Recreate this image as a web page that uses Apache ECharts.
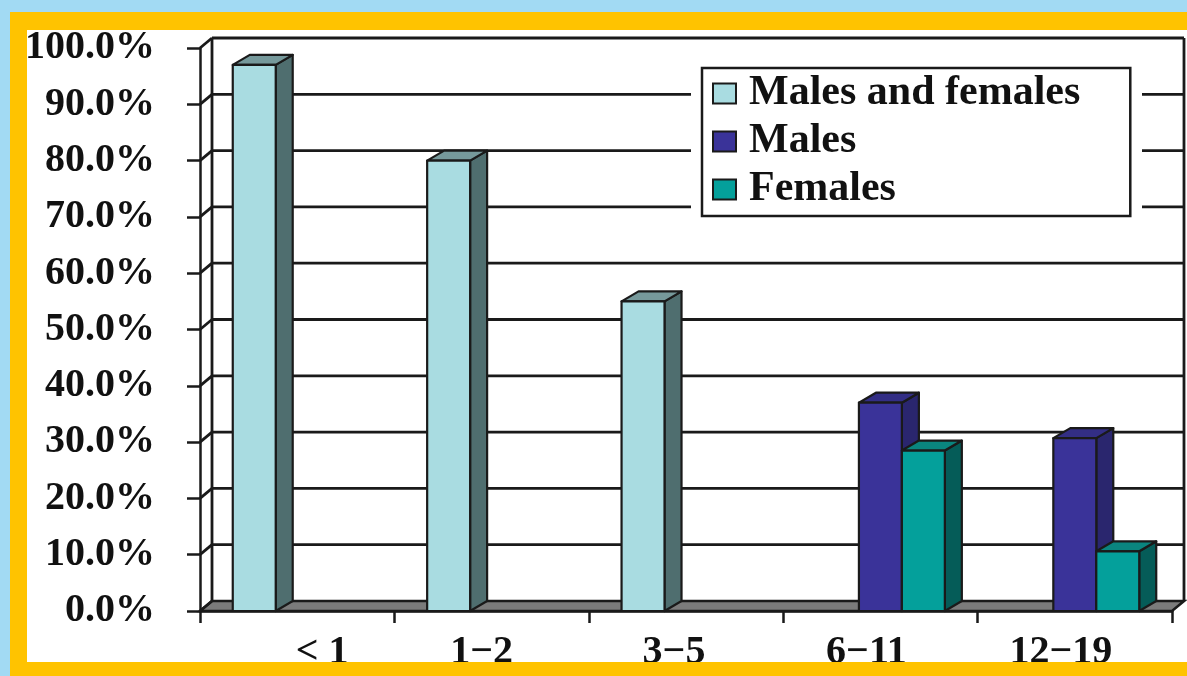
<!DOCTYPE html>
<html>
<head>
<meta charset="utf-8">
<script src="https://cdn.jsdelivr.net/npm/echarts@6/dist/echarts.min.js"></script>
<style>
html,body{margin:0;padding:0;background:#fff;}
#chart{width:1187px;height:676px;}
</style>
</head>
<body>
<div id="chart"></div>
<script>
// ---- data ----
const categories = ['< 1', '1\u22122', '3\u22125', '6\u221211', '12\u221219'];
const seriesNames = ['Males and females', 'Males', 'Females'];
const bothSexes = [97, 80, 55, null, null];
const males = [null, null, null, 37, 30.7];
const females = [null, null, null, 28.5, 10.6];
const yTicks = [0, 10, 20, 30, 40, 50, 60, 70, 80, 90, 100];

// ---- styles ----
const FONT = 'Liberation Serif';
const LINE = '#1a1a1a';
const DX_WALL = 12, DY_WALL = -10;
const DX_BAR = 17, DY_BAR = -10;
const palette = [
  {front: '#A9DCE1', side: '#4F6E6F', top: '#76999B'},
  {front: '#3A3399', side: '#2A266E', top: '#332E85'},
  {front: '#04A09B', side: '#055C58', top: '#0A857F'}
];
const labelShift = [25, -10, -12, -14, -14];

function toData(arr) {
  const out = [];
  arr.forEach((v, i) => { if (v != null) out.push([i, v]); });
  return out;
}

function barRender(slot, col) {
  return function (params, api) {
    const cat = api.value(0);
    const v = api.value(1);
    const topP = api.coord([cat, v]);
    const baseP = api.coord([cat, 0]);
    const band = api.size([1, 0])[0];
    const w = band * 0.221;
    const cx = topP[0] + slot * w;
    const x0 = cx - w / 2, x1 = cx + w / 2;
    const y0 = baseP[1], y1 = topP[1];
    const st = {stroke: LINE, lineWidth: 2.2, lineJoin: 'round'};
    return {
      type: 'group',
      children: [
        {type: 'polygon', shape: {points: [[x1, y1], [x1 + DX_BAR, y1 + DY_BAR], [x1 + DX_BAR, y0 + DY_BAR], [x1, y0]]},
          style: Object.assign({fill: col.side}, st)},
        {type: 'polygon', shape: {points: [[x0, y1], [x0 + DX_BAR, y1 + DY_BAR], [x1 + DX_BAR, y1 + DY_BAR], [x1, y1]]},
          style: Object.assign({fill: col.top}, st)},
        {type: 'rect', shape: {x: x0, y: y1, width: w, height: y0 - y1},
          style: Object.assign({fill: col.front}, st)}
      ]
    };
  };
}

function wallRender(params, api) {
  const cs = params.coordSys;
  const left = cs.x, right = cs.x + cs.width;
  const yBase = api.coord([0, 0])[1];
  const yTop = api.coord([0, yTicks[yTicks.length - 1]])[1];
  const ls = {stroke: LINE, lineWidth: 2.8};
  const children = [];
  // floor
  children.push({type: 'polygon', shape: {points: [[left, yBase], [right, yBase], [right + DX_WALL, yBase + DY_WALL], [left + DX_WALL, yBase + DY_WALL]]},
    style: {fill: '#7b7b7b', stroke: LINE, lineWidth: 2.5}});
  // back gridlines + left wall diagonals
  yTicks.forEach(t => {
    const y = api.coord([0, t])[1];
    if (t > 0) {
      children.push({type: 'line', shape: {x1: left + DX_WALL, y1: y + DY_WALL, x2: right + DX_WALL, y2: y + DY_WALL}, style: ls});
    }
    children.push({type: 'line', shape: {x1: left, y1: y, x2: left + DX_WALL, y2: y + DY_WALL}, style: ls});
  });
  // back-left and back-right vertical edges
  children.push({type: 'line', shape: {x1: left + DX_WALL, y1: yTop + DY_WALL, x2: left + DX_WALL, y2: yBase + DY_WALL}, style: ls});
  children.push({type: 'line', shape: {x1: right + DX_WALL, y1: yTop + DY_WALL, x2: right + DX_WALL, y2: yBase + DY_WALL}, style: ls});
  return {type: 'group', children: children};
}

const chart = echarts.init(document.getElementById('chart'));

const rich = {};
labelShift.forEach((s, i) => {
  rich['c' + i] = {
    fontFamily: FONT, fontWeight: 'bold', fontSize: 40, color: '#111',
    padding: s > 0 ? [0, 0, 0, 2 * s] : [0, -2 * s, 0, 0]
  };
});

const option = {
  backgroundColor: '#ffffff',
  animation: false,
  grid: {left: 200, right: 15, top: 48, bottom: 65, containLabel: false},
  legend: {
    orient: 'vertical',
    left: 702, top: 68,
    data: seriesNames,
    icon: 'rect',
    itemWidth: 23, itemHeight: 20,
    itemGap: 1,
    padding: [2, 50, 3, 10],
    backgroundColor: '#ffffff',
    borderColor: LINE, borderWidth: 2.5,
    itemStyle: {borderColor: LINE, borderWidth: 2},
    textStyle: {fontFamily: FONT, fontWeight: 'bold', fontSize: 42, color: '#111', lineHeight: 47, padding: [0, 0, 0, 8]},
    z: 10
  },
  xAxis: {
    type: 'category',
    data: categories,
    boundaryGap: true,
    axisLine: {show: true, lineStyle: {color: LINE, width: 2.5}},
    axisTick: {show: true, inside: false, length: 12, alignWithLabel: false, lineStyle: {color: LINE, width: 2.5}},
    splitLine: {show: false},
    axisLabel: {
      margin: 22,
      interval: 0,
      formatter: (v, i) => '{c' + i + '|' + v + '}',
      rich: rich
    }
  },
  yAxis: {
    type: 'value',
    min: 0, max: 100, interval: 10,
    axisLine: {show: true, lineStyle: {color: LINE, width: 2.5}},
    axisTick: {show: true, length: 13, lineStyle: {color: LINE, width: 2.5}},
    splitLine: {show: false},
    axisLabel: {
      margin: 45,
      formatter: v => v.toFixed(1) + '%',
      fontFamily: FONT, fontWeight: 'bold', fontSize: 40, color: '#111'
    }
  },
  graphic: [
    {type: 'rect', shape: {x: 691, y: 58, width: 451, height: 167}, style: {fill: '#ffffff'}, z: 5},
    {type: 'rect', shape: {x: 0, y: 0, width: 1187, height: 12}, style: {fill: '#A2DAF3'}, z: 100},
    {type: 'rect', shape: {x: 0, y: 0, width: 10, height: 676}, style: {fill: '#A2DAF3'}, z: 100},
    {type: 'rect', shape: {x: 10, y: 12, width: 1177, height: 18}, style: {fill: '#FFC300'}, z: 101},
    {type: 'rect', shape: {x: 10, y: 12, width: 17, height: 664}, style: {fill: '#FFC300'}, z: 101},
    {type: 'rect', shape: {x: 10, y: 662, width: 1177, height: 14}, style: {fill: '#FFC300'}, z: 101}
  ],
  series: [
    {
      type: 'custom', name: '_walls', silent: true,
      data: [[0, 0]], encode: {x: 0, y: 1},
      renderItem: wallRender, z: 1
    },
    {
      type: 'custom', name: seriesNames[0],
      itemStyle: {color: palette[0].front},
      data: toData(bothSexes), encode: {x: 0, y: 1},
      renderItem: barRender(-1, palette[0]), z: 2
    },
    {
      type: 'custom', name: seriesNames[1],
      itemStyle: {color: palette[1].front},
      data: toData(males), encode: {x: 0, y: 1},
      renderItem: barRender(0, palette[1]), z: 2
    },
    {
      type: 'custom', name: seriesNames[2],
      itemStyle: {color: palette[2].front},
      data: toData(females), encode: {x: 0, y: 1},
      renderItem: barRender(1, palette[2]), z: 2
    }
  ]
};
chart.setOption(option);
</script>
</body>
</html>
